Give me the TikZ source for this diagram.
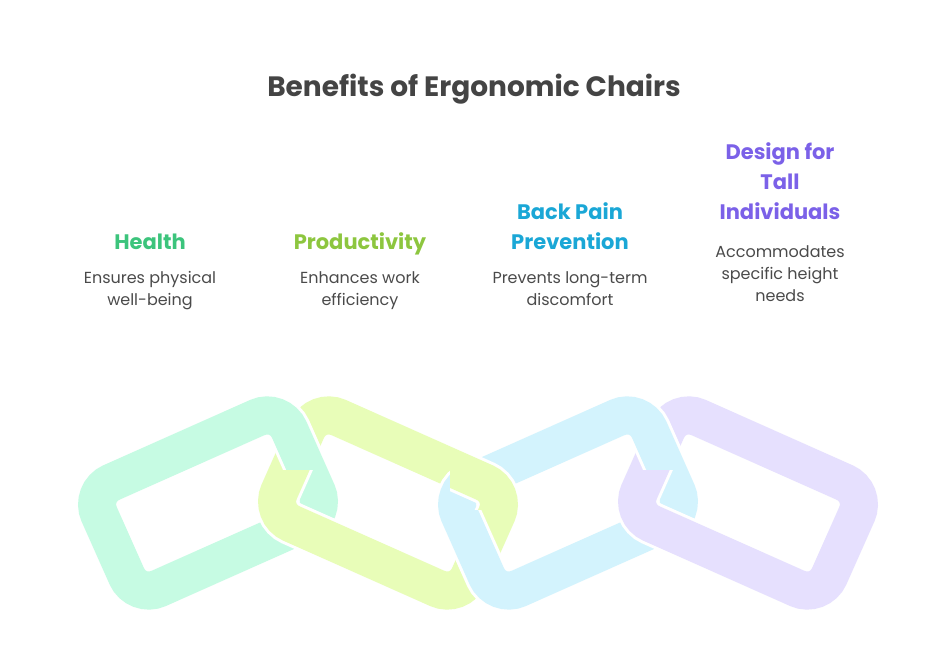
\documentclass[tikz,border=0pt]{standalone}
\usepackage{fontspec}
\setmainfont{Poppins}
\definecolor{titlegray}{HTML}{444444}
\definecolor{textgray}{HTML}{4A4A4A}
\definecolor{healthc}{HTML}{3CC47C}
\definecolor{prodc}{HTML}{8DC63F}
\definecolor{backc}{HTML}{1AA7D6}
\definecolor{tallc}{HTML}{7B61E8}
\definecolor{healthl}{HTML}{C6FBE3}
\definecolor{prodl}{HTML}{E8FDB8}
\definecolor{backl}{HTML}{D3F3FD}
\definecolor{talll}{HTML}{E6E0FE}
\tikzset{
  head/.style={font=\bfseries\fontsize{21}{30}\selectfont, align=center, anchor=base},
  body/.style={font=\fontsize{16}{22}\selectfont, text=textgray, align=center, anchor=base},
  linkgap/.style={draw=white, line width=44pt, rounded corners=24pt},
  linkband/.style={line width=38pt, rounded corners=24pt},
}
% one link of the chain: center, tilt, colour
\newcommand\chainlink[3]{%
  \begin{scope}[shift={#1}, rotate=#2]
    \draw[linkgap] (-104pt,-58pt) rectangle (104pt,58pt);
    \draw[linkband, draw=#3] (-104pt,-58pt) rectangle (104pt,58pt);
  \end{scope}}
\begin{document}
\begin{tikzpicture}[x=1pt,y=1pt]
  \useasboundingbox (0,0) rectangle (948,663);
  \node[font=\bfseries\fontsize{28}{32}\selectfont, text=titlegray, anchor=base] (title) at (474,566) {Benefits of Ergonomic Chairs};
  % headings
  \node[head, text=healthc] (health) at (150,413) {Health};
  \node[head, text=prodc] (prod) at (360,413) {Productivity};
  \node[head, text=backc] (back) at (570,413) {Back Pain\\Prevention};
  \node[head, text=tallc] (tall) at (780,443) {Design for\\Tall\\Individuals};
  % descriptions
  \node[body] (healthtxt) at (150,357) {Ensures physical\\well-being};
  \node[body] (prodtxt) at (360,357) {Enhances work\\efficiency};
  \node[body] (backtxt) at (570,357) {Prevents long-term\\discomfort};
  \node[body] (talltxt) at (780,361) {Accommodates\\specific height\\needs};
  % chain
  \chainlink{(208,160)}{24}{healthl}
  \chainlink{(388,160)}{-24}{prodl}
  \begin{scope}
    \clip (255,193) rectangle (360,285);
    \chainlink{(208,160)}{24}{healthl}
  \end{scope}
  \chainlink{(568,160)}{24}{backl}
  \begin{scope}
    \clip (450,153) rectangle (545,243);
    \chainlink{(388,160)}{-24}{prodl}
  \end{scope}
  \chainlink{(748,160)}{-24}{talll}
  \begin{scope}
    \clip (615,193) rectangle (720,285);
    \chainlink{(568,160)}{24}{backl}
  \end{scope}
\end{tikzpicture}
\end{document}
